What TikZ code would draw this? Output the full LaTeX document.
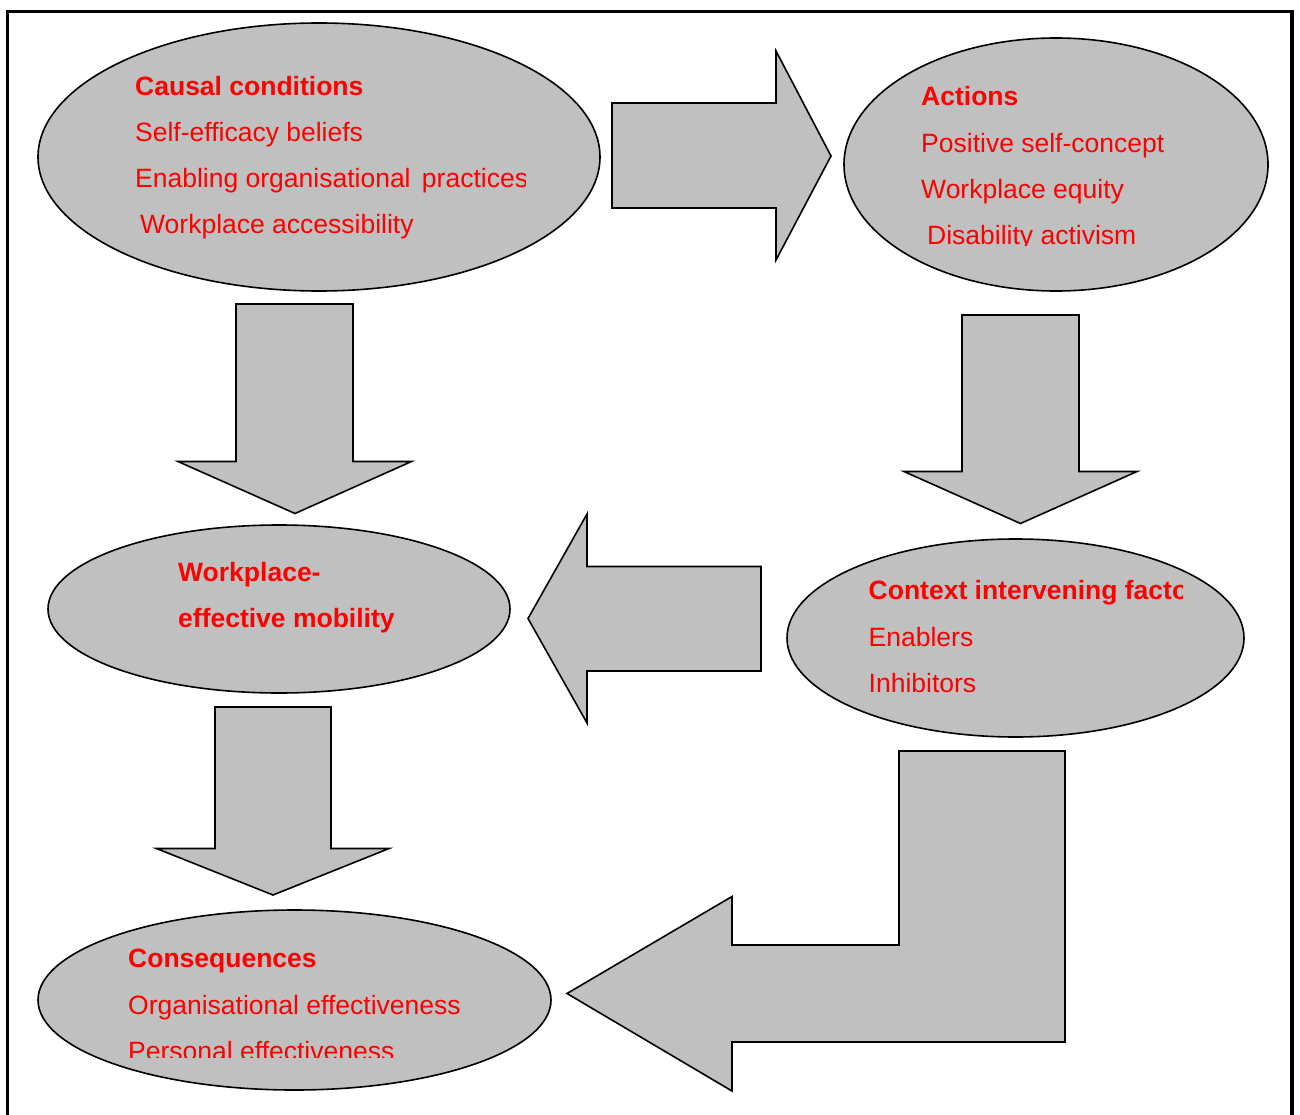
\documentclass[tikz,border=0pt]{standalone}
\usepackage{fontspec}
\setmainfont{Liberation Sans}
\usetikzlibrary{shapes.geometric}
\definecolor{boxgray}{HTML}{C0C0C0}
\definecolor{txtred}{HTML}{FF0000}
\tikzset{
  blob/.style={ellipse, draw=black, line width=1.6pt, fill=boxgray, inner sep=0pt},
  blockarrow/.style={draw=black, line width=1.6pt, fill=boxgray, line join=miter},
  headtxt/.style={anchor=base west, inner sep=0pt, text=txtred, font=\fontsize{26.5}{30}\selectfont\bfseries},
  itemtxt/.style={anchor=base west, inner sep=0pt, text=txtred, font=\fontsize{26.5}{30}\selectfont},
}
\begin{document}
\begin{tikzpicture}[x=1pt,y=-1pt]
\useasboundingbox (0,0) rectangle (1300,1115);
% frame
\draw[line width=3.5pt] (7.5,1120) -- (7.5,11.5) -- (1292,11.5) -- (1292,1120);

% ellipses
\node[blob, minimum width=562pt, minimum height=268pt] (cause) at (319,157) {};
\node[blob, minimum width=424pt, minimum height=253pt] (act) at (1056,164.5) {};
\node[blob, minimum width=462pt, minimum height=168pt] (mob) at (279,609) {};
\node[blob, minimum width=457pt, minimum height=198pt] (ctx) at (1015.5,638) {};
\node[blob, minimum width=513pt, minimum height=180pt] (cons) at (294.5,1000) {};

% block arrows
\draw[blockarrow] (612,103) -- (776,103) -- (776,51) -- (831,156) -- (776,260) -- (776,208) -- (612,208) -- cycle;
\draw[blockarrow] (236,304) -- (353,304) -- (353,461.5) -- (411.5,461.5) -- (295,513.5) -- (178,461.5) -- (236,461.5) -- cycle;
\draw[blockarrow] (962,315) -- (1079,315) -- (1079,471.5) -- (1137,471.5) -- (1020.5,523.5) -- (904,471.5) -- (962,471.5) -- cycle;
\draw[blockarrow] (761,566.5) -- (587,566.5) -- (587,514) -- (528,618.5) -- (587,723) -- (587,671) -- (761,671) -- cycle;
\draw[blockarrow] (215,707) -- (331,707) -- (331,848.5) -- (389,848.5) -- (273,895) -- (156.5,848.5) -- (215,848.5) -- cycle;
\draw[blockarrow] (899,751) -- (1065,751) -- (1065,1042) -- (732,1042) -- (732,1091) -- (567,993.5) -- (732,896.5) -- (732,945) -- (899,945) -- cycle;

% texts: causal conditions
\begin{scope}
\clip (120,60) rectangle (525,250);
\node[headtxt] (t1a) at (135,96) {Causal conditions};
\node[itemtxt] (t1b) at (135,142) {Self-efficacy beliefs};
\node[itemtxt] (t1c) at (135,188) {Enabling organisational\hspace{4pt} practices};
\node[itemtxt] (t1d) at (140,234) {Workplace accessibility};
\end{scope}

% actions
\begin{scope}
\clip (900,70) rectangle (1240,246);
\node[headtxt] (t2a) at (921,106) {Actions};
\node[itemtxt] (t2b) at (921,152.5) {Positive self-concept};
\node[itemtxt] (t2c) at (921,198.5) {Workplace equity};
\node[itemtxt] (t2d) at (927,244.5) {Disability activism};
\end{scope}

% workplace-effective mobility
\node[headtxt] (t3a) at (178,581.5) {Workplace-};
\node[headtxt] (t3b) at (178,627.5) {effective mobility};

% context
\begin{scope}
\clip (850,560) rectangle (1182,720);
\node[headtxt] (t4a) at (868.5,599.5) {Context intervening factors};
\node[itemtxt] (t4b) at (868.5,646) {Enablers};
\node[itemtxt] (t4c) at (868.5,692) {Inhibitors};
\end{scope}

% consequences
\begin{scope}
\clip (110,930) rectangle (540,1057.5);
\node[headtxt] (t5a) at (128,967.5) {Consequences};
\node[itemtxt] (t5b) at (128,1014) {Organisational effectiveness};
\node[itemtxt] (t5c) at (128,1060) {Personal effectiveness};
\end{scope}
\end{tikzpicture}
\end{document}
